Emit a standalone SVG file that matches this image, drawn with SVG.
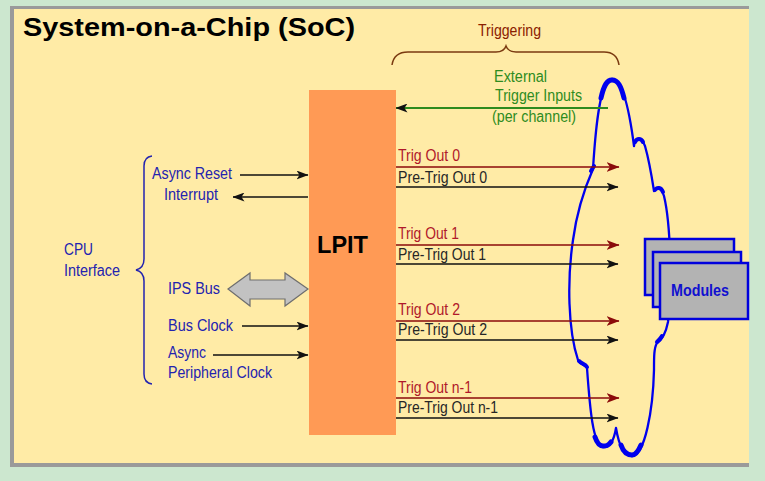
<svg xmlns="http://www.w3.org/2000/svg" width="765" height="481" viewBox="0 0 765 481">
<defs>
<style>
.t{font-family:"Liberation Sans",Arial,sans-serif;font-size:16px}
.b{font-family:"Liberation Sans",Arial,sans-serif;font-weight:bold}
.blue{fill:#2323B0}
.red{fill:#B0182A}
.dark{fill:#262626}
.green{fill:#2E8B1E}
.blk{stroke:#111;stroke-width:1.5;fill:none}
.rl{stroke:#8B0A0A;stroke-width:1.5;fill:none}
.cl{stroke:#0000EE;fill:none;stroke-linecap:round;stroke-linejoin:round}
.mod{fill:#B3B3B3;stroke:#0000DD;stroke-width:2.5}
</style>
<marker id="ab" markerUnits="userSpaceOnUse" markerWidth="12" markerHeight="9" refX="11.5" refY="4.5" orient="auto">
<path d="M0,0 L12,4.5 L0,9 L3,4.5 z" fill="#111"/>
</marker>
<marker id="ar" markerUnits="userSpaceOnUse" markerWidth="13" markerHeight="10" refX="12.5" refY="5" orient="auto">
<path d="M0,0 L13,5 L0,10 L3.5,5 z" fill="#8B0A0A"/>
</marker>
</defs>
<rect x="0" y="0" width="765" height="481" fill="#CCE7CF"/>
<rect x="10" y="6" width="739" height="461" fill="#9A9A9A"/>
<rect x="14" y="9" width="735" height="454" fill="#FFEBA6"/>
<text class="b" x="23" y="36" font-size="25" textLength="332" lengthAdjust="spacingAndGlyphs" fill="#000">System-on-a-Chip (SoC)</text>

<g id="cloud">
<path class="cl" stroke-width="2.3" d="M593,169 C596,120 601,79 612,79 C623,79 630,115 634,146 C635,137 641,136 645,146 C649,160 652,178 654,191 C656,186 661,186 664,196 C671,225 672,290 668,322 C666,332 662,340 657,343 C654,348 654,356 654,370 C653,410 645,455 632,456 C622,456 618,440 616,428 C614,440 610,448 603,447 C593,445 590,410 587,368 C585,364 581,366 578,360 C568,330 567,280 573,240 C577,210 586,185 593,169 Z"/>
<path class="cl" stroke-width="5" d="M601,98 C604,85 607,80 612,80 C618,80 621,86 624,98"/>
<path class="cl" stroke-width="4" d="M635,142 C637,138 641,138 643,142"/>
<path class="cl" stroke-width="4" d="M655,190 C657,187 661,187 663,192"/>
<path class="cl" stroke-width="4" d="M657,342 C659,340 661,338 662,336"/>
<path class="cl" stroke-width="4" d="M579,361 C582,364 585,364 587,367"/>
<path class="cl" stroke-width="4" d="M591,171 L594,166"/>
<path class="cl" stroke-width="5" d="M641,445 C638,452 635,455 632,455 C627,455 623,451 621,445"/>
<path class="cl" stroke-width="5" d="M611,442 C608,446 606,446 603,446 C600,446 597,443 595,437"/>
</g>

<g id="brace-triggering">
<path d="M392,65 Q394,52 408,52 L496,52 Q504,52 506,46 Q508,52 516,52 L604,52 Q617,52 619,65" fill="none" stroke="#7B3A10" stroke-width="1.5"/>
<text class="t" x="478" y="36" textLength="63" lengthAdjust="spacingAndGlyphs" fill="#8B2000">Triggering</text>
</g>

<g id="brace-cpu">
<path d="M152,156 Q144,157 144,166 L144,259 Q144,268 136,270 Q144,272 144,281 L144,374 Q144,383 152,384" fill="none" stroke="#2323B0" stroke-width="1.5"/>
<text class="t blue" x="64" y="255" textLength="29" lengthAdjust="spacingAndGlyphs">CPU</text>
<text class="t blue" x="64" y="276" textLength="56" lengthAdjust="spacingAndGlyphs">Interface</text>
</g>

<g id="lpit">
<rect x="309" y="90" width="87" height="345" fill="#FF9A55"/>
<text class="b" x="317" y="253" font-size="24" textLength="51" lengthAdjust="spacingAndGlyphs" fill="#000">LPIT</text>
</g>

<g id="connectors">
<path class="blk" d="M240,175 L308,175" marker-end="url(#ab)"/>
<path class="blk" d="M308,197 L233,197" marker-end="url(#ab)"/>
<path class="blk" d="M242,326 L308,326" marker-end="url(#ab)"/>
<path class="blk" d="M213,355 L308,355" marker-end="url(#ab)"/>
<path d="M228,289 L250,273 L250,280 L285,280 L285,273 L308,289 L285,306 L285,299 L250,299 L250,306 Z" fill="#C2C2C2" stroke="#6E6E6E" stroke-width="1.2"/>
<path d="M608,108 L396,108" stroke="#2E8B1E" stroke-width="2" fill="none" marker-end="url(#ab)"/>
<path class="rl" d="M396,167 L619,167" marker-end="url(#ar)"/>
<path class="blk" d="M396,187 L618,187" marker-end="url(#ab)"/>
<path class="rl" d="M396,245 L619,245" marker-end="url(#ar)"/>
<path class="blk" d="M396,264 L618,264" marker-end="url(#ab)"/>
<path class="rl" d="M396,321 L619,321" marker-end="url(#ar)"/>
<path class="blk" d="M396,340 L618,340" marker-end="url(#ab)"/>
<path class="rl" d="M396,398 L619,398" marker-end="url(#ar)"/>
<path class="blk" d="M396,418 L618,418" marker-end="url(#ab)"/>
</g>

<g id="labels-left">
<text class="t blue" x="152" y="179" textLength="80" lengthAdjust="spacingAndGlyphs">Async Reset</text>
<text class="t blue" x="164" y="200" textLength="54" lengthAdjust="spacingAndGlyphs">Interrupt</text>
<text class="t blue" x="168" y="294" textLength="52" lengthAdjust="spacingAndGlyphs">IPS Bus</text>
<text class="t blue" x="168" y="331" textLength="65" lengthAdjust="spacingAndGlyphs">Bus Clock</text>
<text class="t blue" x="168" y="358" textLength="38" lengthAdjust="spacingAndGlyphs">Async</text>
<text class="t blue" x="168" y="378" textLength="104" lengthAdjust="spacingAndGlyphs">Peripheral Clock</text>
</g>

<g id="labels-ext">
<text class="t green" x="494" y="82" textLength="53" lengthAdjust="spacingAndGlyphs">External</text>
<text class="t green" x="495" y="101" textLength="87" lengthAdjust="spacingAndGlyphs">Trigger Inputs</text>
<text class="t green" x="492" y="122" textLength="84" lengthAdjust="spacingAndGlyphs">(per channel)</text>
</g>

<g id="labels-out">
<text class="t red" x="398" y="161" textLength="62" lengthAdjust="spacingAndGlyphs">Trig Out 0</text>
<text class="t dark" x="398" y="183" textLength="89" lengthAdjust="spacingAndGlyphs">Pre-Trig Out 0</text>
<text class="t red" x="398" y="239" textLength="61" lengthAdjust="spacingAndGlyphs">Trig Out 1</text>
<text class="t dark" x="398" y="260" textLength="88" lengthAdjust="spacingAndGlyphs">Pre-Trig Out 1</text>
<text class="t red" x="398" y="315" textLength="62" lengthAdjust="spacingAndGlyphs">Trig Out 2</text>
<text class="t dark" x="398" y="335" textLength="89" lengthAdjust="spacingAndGlyphs">Pre-Trig Out 2</text>
<text class="t red" x="398" y="393" textLength="74" lengthAdjust="spacingAndGlyphs">Trig Out n-1</text>
<text class="t dark" x="398" y="413" textLength="100" lengthAdjust="spacingAndGlyphs">Pre-Trig Out n-1</text>
</g>

<g id="modules">
<rect class="mod" x="645" y="239" width="89" height="56"/>
<rect class="mod" x="653" y="252" width="88" height="55"/>
<rect class="mod" x="660" y="263" width="88" height="56"/>
<text class="b" x="671" y="296" font-size="16" textLength="58" lengthAdjust="spacingAndGlyphs" fill="#1010D0">Modules</text>
</g>
</svg>
